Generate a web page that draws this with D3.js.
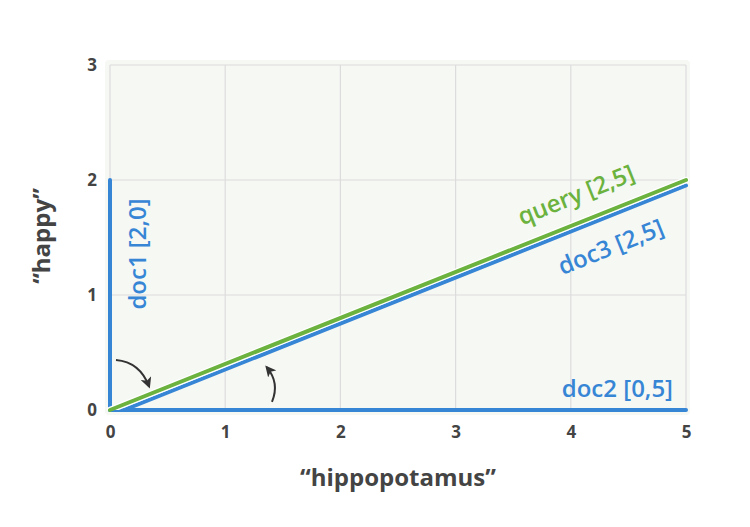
<!DOCTYPE html>
<html><head><meta charset="utf-8">
<script src="https://cdn.jsdelivr.net/npm/d3@7"></script>
<style>
html,body{margin:0;padding:0;background:#fff;}
text{font-family:"Open Sans",sans-serif;}
</style></head>
<body><svg id="c" width="750" height="527"></svg>
<script>
const xTicks = [0,1,2,3,4,5];
const yTicks = [0,1,2,3];
const xTitle = "“hippopotamus”";
const yTitle = "“happy”";
const vectorNames = ["doc1 [2,0]", "doc2 [0,5]", "doc3 [2,5]", "query [2,5]"];
const vectorHippo = [0, 5, 5, 5];
const vectorHappy = [2, 0, 2, 2];
const vectorColors = ["#3786d6", "#3786d6", "#3786d6", "#6bb23e"];
const arrows = [
  [[0.052,0.435],[0.26,0.417],[0.339,0.205]],
  [[1.406,0.07],[1.475,0.235],[1.36,0.372]]
];

const svg = d3.select("#c");
const x = d3.scaleLinear().domain([0,5]).range([110,686]);
const y = d3.scaleLinear().domain([0,3]).range([410,65]);

svg.append("rect").attr("x",105).attr("y",60).attr("width",585).attr("height",355)
  .attr("rx",4).attr("fill","#f6f8f4");

// grid
svg.append("g").selectAll("line").data(xTicks).join("line")
  .attr("x1",d=>x(d)).attr("x2",d=>x(d)).attr("y1",y(3)).attr("y2",y(0))
  .attr("stroke","#dcdcdc").attr("stroke-width",1.2);
svg.append("g").selectAll("line").data(yTicks).join("line")
  .attr("y1",d=>y(d)).attr("y2",d=>y(d)).attr("x1",x(0)).attr("x2",x(5))
  .attr("stroke","#dcdcdc").attr("stroke-width",1.2);

// axes
const xAxis = svg.append("g").attr("transform",`translate(0,${y(0)})`)
  .call(d3.axisBottom(x).tickValues(xTicks).tickSize(0).tickPadding(16).tickFormat(d3.format("d")));
const yAxis = svg.append("g").attr("transform",`translate(${x(0)},0)`)
  .call(d3.axisLeft(y).tickValues(yTicks).tickSize(0).tickPadding(13).tickFormat(d3.format("d")));
[xAxis,yAxis].forEach(a=>{
  a.select(".domain").remove();
  a.selectAll("text").attr("fill","#444").attr("font-size",17).attr("font-weight",700)
    .attr("font-family","'Open Sans',sans-serif");
});

svg.append("text").attr("x",398).attr("y",486).attr("text-anchor","middle")
  .attr("font-size",24).attr("font-weight",700).attr("fill","#444").text(xTitle);
svg.append("text").attr("transform","translate(50,236) rotate(-90)").attr("text-anchor","middle")
  .attr("font-size",24).attr("font-weight",700).attr("fill","#444").text(yTitle);

// clip
svg.append("clipPath").attr("id","clip").append("rect")
  .attr("x",100).attr("y",50).attr("width",600).attr("height",y(0)-50);

const line = d3.line().x(d=>x(d[0])).y(d=>y(d[1]));
const vecs = vectorNames.map((n,i)=>({name:n, pts:[[0,0],[vectorHippo[i],vectorHappy[i]]], color:vectorColors[i]}));

// doc3 (offset slightly below query)
svg.append("g").attr("clip-path","url(#clip)").append("path").datum(vecs[2].pts).attr("d",line)
  .attr("transform","translate(0,5.5)")
  .attr("fill","none").attr("stroke",vecs[2].color).attr("stroke-width",4).attr("stroke-linecap","round");
// doc2, doc1
[vecs[1],vecs[0]].forEach(v=>{
  svg.append("path").datum(v.pts).attr("d",line).attr("fill","none")
    .attr("stroke",v.color).attr("stroke-width",4).attr("stroke-linecap","round");
});
// query with halo
svg.append("path").datum(vecs[3].pts).attr("d",line).attr("fill","none")
  .attr("stroke","#fff").attr("stroke-width",6.5).attr("stroke-linecap","round")
  .attr("clip-path","url(#clip)");
svg.append("path").datum(vecs[3].pts).attr("d",line).attr("fill","none")
  .attr("stroke",vecs[3].color).attr("stroke-width",4).attr("stroke-linecap","round");

// labels
const ang = Math.atan2(y(0)-y(2), x(5)-x(0))*180/Math.PI;
svg.append("text").attr("transform",`translate(146,254) rotate(-90)`).attr("text-anchor","middle")
  .attr("font-size",24).attr("font-weight",600).attr("fill",vecs[0].color).text(vecs[0].name);
svg.append("text").attr("x",673).attr("y",397).attr("text-anchor","end")
  .attr("font-size",24).attr("font-weight",600).attr("fill",vecs[1].color).text(vecs[1].name);
function alongLabel(v, px, perp, extra){
  const py = y(0) - (px - x(0))*(y(0)-y(2))/(x(5)-x(0)) + extra;
  const r = -ang*Math.PI/180;
  const cx = px - perp*Math.sin(r), cy = py + perp*Math.cos(r);
  svg.append("text").attr("transform",`translate(${cx},${cy}) rotate(${-ang})`)
    .attr("text-anchor","middle").attr("dy","0.35em")
    .attr("font-size",24).attr("font-weight",600).attr("fill",v.color).text(v.name);
}
alongLabel(vecs[3], 586, -27, 0);
alongLabel(vecs[2], 600, 29, 5.5);

// arrows
const defs = svg.append("defs");
defs.append("marker").attr("id","ah").attr("viewBox","0 0 10 10").attr("refX",8).attr("refY",5)
  .attr("markerWidth",5.5).attr("markerHeight",5.5).attr("orient","auto").attr("markerUnits","strokeWidth")
  .append("path").attr("d","M0,0 L10,5 L0,10 L2.5,5 Z").attr("fill","#333");
svg.append("g").selectAll("path").data(arrows).join("path")
  .attr("d",a=>`M${x(a[0][0])},${y(a[0][1])} Q${x(a[1][0])},${y(a[1][1])} ${x(a[2][0])},${y(a[2][1])}`)
  .attr("fill","none").attr("stroke","#333").attr("stroke-width",2).attr("marker-end","url(#ah)");
</script></body></html>
